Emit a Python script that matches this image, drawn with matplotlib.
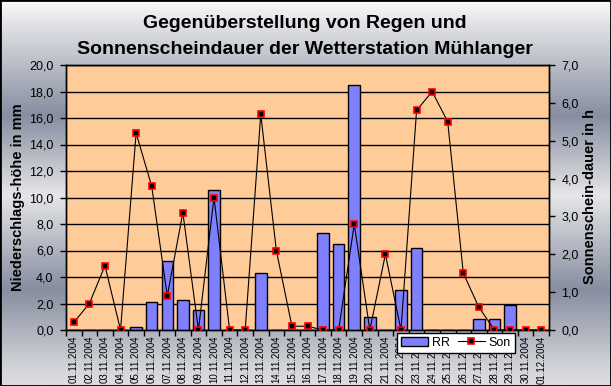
import numpy as np
import matplotlib
matplotlib.use('Agg')
import matplotlib.pyplot as plt
from matplotlib.ticker import FuncFormatter, FixedLocator
from matplotlib.colors import LinearSegmentedColormap
from matplotlib.patches import Rectangle, Patch
from matplotlib.lines import Line2D

dates = ["01.11.2004", "02.11.2004", "03.11.2004", "04.11.2004", "05.11.2004",
         "06.11.2004", "07.11.2004", "08.11.2004", "09.11.2004", "10.11.2004",
         "11.11.2004", "12.11.2004", "13.11.2004", "14.11.2004", "15.11.2004",
         "16.11.2004", "17.11.2004", "18.11.2004", "19.11.2004", "20.11.2004",
         "21.11.2004", "22.11.2004", "23.11.2004", "24.11.2004", "25.11.2004",
         "26.11.2004", "27.11.2004", "28.11.2004", "29.11.2004", "30.11.2004",
         "01.12.2004"]
rr = [0, 0, 0, 0, 0.2, 2.1, 5.2, 2.3, 1.5, 10.6, 0, 0, 4.3, 0, 0, 0, 7.3, 6.5,
      18.5, 1.0, 0, 3.0, 6.2, 0, 0, 0, 0.8, 0.8, 1.9, 0, 0]
son = [0.2, 0.7, 1.7, 0, 5.2, 3.8, 0.9, 3.1, 0, 3.5, 0, 0, 5.7, 2.1, 0.1, 0.1,
       0, 0, 2.8, 0, 2.0, 0, 5.8, 6.3, 5.5, 1.5, 0.6, 0, 0, 0, 0]
left_ticks = [0, 2, 4, 6, 8, 10, 12, 14, 16, 18, 20]
right_ticks = [0, 1, 2, 3, 4, 5, 6, 7]

W, H = 611, 386
fig = plt.figure(figsize=(W / 100, H / 100), dpi=100)

# metallic background gradient
bg = fig.add_axes([0, 0, 1, 1], zorder=-10)
stops = [(0.0, '#fafafa'), (20 / H, '#e4e5e8'), (115 / H, '#878ea0'),
         (195 / H, '#e6e6e8'), (290 / H, '#878ea0'), (370 / H, '#d4d5da'),
         (1.0, '#dcdde0')]
cmap = LinearSegmentedColormap.from_list('metal', stops)
grad = np.linspace(0, 1, 400).reshape(-1, 1)
bg.imshow(grad, cmap=cmap, aspect='auto', extent=[0, 1, 0, 1], origin='upper')
bg.set_xlim(0, 1)
bg.set_ylim(0, 1)
bg.axis('off')

tickfont = ['Liberation Sans Narrow', 'Liberation Sans', 'DejaVu Sans']
x0, x1, ytop, ybot = 66, 549, 65, 330
ax = fig.add_axes([x0 / W, 1 - ybot / H, (x1 - x0) / W, (ybot - ytop) / H])
ax.set_facecolor('#ffcc99')
x = np.arange(len(dates))
ax.bar(x, rr, width=0.74, color='#8080ff', edgecolor='black', linewidth=1, zorder=3)
ax.set_xlim(-0.5, len(dates) - 0.5)
ax.set_ylim(0, 20)
ax.set_yticks(left_ticks)
ax.yaxis.set_major_formatter(FuncFormatter(lambda v, p: f"{v:.1f}".replace('.', ',')))
ax.yaxis.grid(True, color='black', linewidth=1)
ax.set_axisbelow(True)
ax.xaxis.set_major_locator(FixedLocator(np.arange(-0.5, len(dates), 1.0)))
ax.xaxis.set_major_formatter(FuncFormatter(lambda v, p: ''))
ax.xaxis.set_minor_locator(FixedLocator(x))
ax.set_xticklabels(dates, minor=True, rotation=90, fontsize=7,
                   family=['Liberation Sans', 'DejaVu Sans'])
ax.tick_params(axis='x', which='major', direction='out', length=4, width=1, color='black')
ax.tick_params(axis='x', which='minor', length=0, pad=4)
ax.tick_params(axis='y', direction='out', length=4, width=1, pad=5, labelsize=9)
for lab in ax.get_yticklabels():
    lab.set_family(tickfont)
for s in ax.spines.values():
    s.set_color('black')
    s.set_linewidth(1)

ax2 = ax.twinx()
ax2.plot(x, son, color='black', linewidth=0.8, marker='s', markersize=5,
         markerfacecolor='black', markeredgecolor='red', markeredgewidth=1.2,
         zorder=5)
ax2.set_ylim(0, 7)
ax2.set_yticks(right_ticks)
ax2.yaxis.set_major_formatter(FuncFormatter(lambda v, p: f"{v:.1f}".replace('.', ',')))
ax2.tick_params(axis='y', direction='out', length=4, width=1, pad=5, labelsize=9)
for lab in ax2.get_yticklabels():
    lab.set_family(tickfont)
for s in ax2.spines.values():
    s.set_color('black')
    s.set_linewidth(1)

# titles and axis labels
fig.text(305 / W, 1 - 23 / H, "Gegenüberstellung von Regen und", ha='center', va='center',
         fontsize=14, fontweight='bold', family=['Liberation Sans', 'DejaVu Sans'])
fig.text(305 / W, 1 - 49 / H, "Sonnenscheindauer der Wetterstation Mühlanger", ha='center',
         va='center', fontsize=14, fontweight='bold', family=['Liberation Sans', 'DejaVu Sans'])
fig.text(18 / W, 1 - 197 / H, "Niederschlags-höhe in mm", rotation=90, ha='center', va='center',
         fontsize=10.5, fontweight='bold', family=['Liberation Sans', 'DejaVu Sans'])
fig.text(590 / W, 1 - 197 / H, "Sonnenschein-dauer in h", rotation=90, ha='center', va='center',
         fontsize=10.5, fontweight='bold', family=['Liberation Sans', 'DejaVu Sans'])

# legend
handles = [Patch(facecolor='#8080ff', edgecolor='black', linewidth=1),
           Line2D([], [], color='black', linewidth=0.8, marker='s', markersize=5,
                  markerfacecolor='black', markeredgecolor='red', markeredgewidth=1.2)]
leg = fig.legend(handles, ['RR', 'Son'], loc='upper left',
                 bbox_to_anchor=(397 / W, 1 - 333 / H), ncol=2, frameon=True,
                 fancybox=False, shadow=False, framealpha=1, edgecolor='black',
                 facecolor='white', borderpad=0.3, handlelength=2.2, handletextpad=0.3,
                 columnspacing=0.6, borderaxespad=0,
                 prop={'family': ['Liberation Sans', 'DejaVu Sans'], 'size': 9})
leg.get_frame().set_linewidth(1)

# figure border
fig.patches.append(Rectangle((0, 0), 1, 1, transform=fig.transFigure, fill=False,
                             edgecolor='black', linewidth=2, zorder=20))

fig.savefig('out.png', dpi=100)
